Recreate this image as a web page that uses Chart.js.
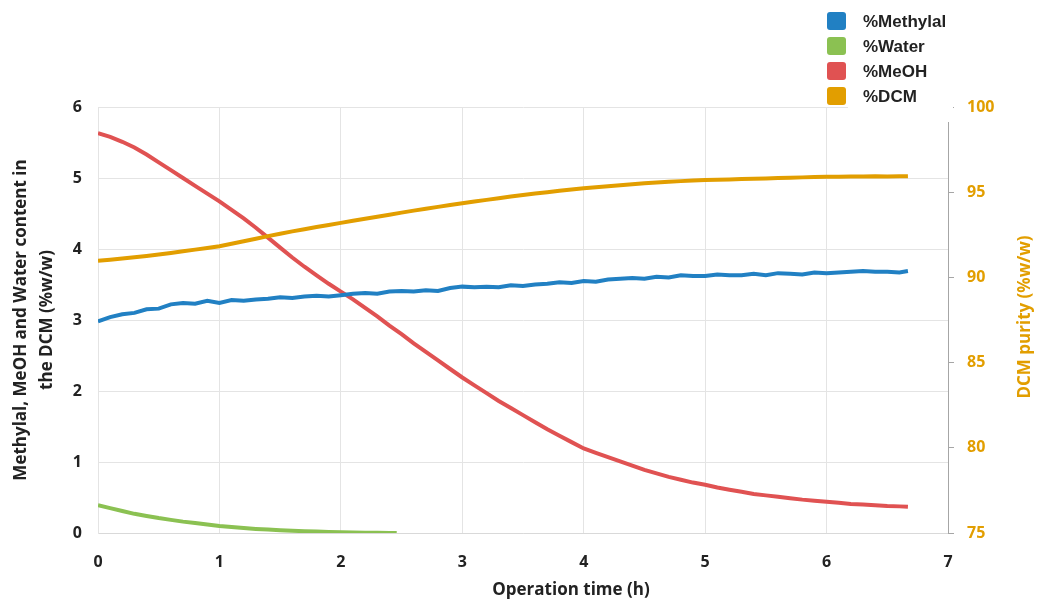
<!DOCTYPE html>
<html>
<head>
<meta charset="utf-8">
<script src="https://cdn.jsdelivr.net/npm/chart.js@4.4.1/dist/chart.umd.min.js"></script>
<style>
html,body{margin:0;padding:0;background:#fff}
</style>
</head>
<body>
<canvas id="chart" width="1037" height="600"></canvas>
<script>
// operation time (h) for the long series
const hours=[0,0.1,0.2,0.3,0.4,0.5,0.6,0.7,0.8,0.9,1,1.1,1.2,1.3,1.4,1.5,1.6,1.7,1.8,1.9,2,2.1,2.2,2.3,2.4,2.5,2.6,2.7,2.8,2.9,3,3.1,3.2,3.3,3.4,3.5,3.6,3.7,3.8,3.9,4,4.1,4.2,4.3,4.4,4.5,4.6,4.7,4.8,4.9,5,5.1,5.2,5.3,5.4,5.5,5.6,5.7,5.8,5.9,6,6.1,6.2,6.3,6.4,6.5,6.6,6.67];
const methylal=[2.98,3.04,3.08,3.10,3.15,3.16,3.22,3.24,3.23,3.27,3.24,3.28,3.27,3.29,3.30,3.32,3.31,3.33,3.34,3.33,3.35,3.37,3.38,3.37,3.40,3.41,3.40,3.42,3.41,3.45,3.47,3.46,3.47,3.46,3.49,3.48,3.50,3.51,3.53,3.52,3.55,3.54,3.57,3.58,3.59,3.58,3.61,3.60,3.63,3.62,3.62,3.64,3.63,3.63,3.65,3.63,3.66,3.65,3.64,3.67,3.66,3.67,3.68,3.69,3.68,3.68,3.67,3.69];
const meoh=[5.63,5.58,5.51,5.43,5.33,5.22,5.11,5.00,4.89,4.78,4.67,4.55,4.43,4.30,4.16,4.02,3.88,3.75,3.63,3.51,3.40,3.29,3.17,3.05,2.92,2.80,2.67,2.55,2.43,2.31,2.19,2.08,1.97,1.86,1.76,1.66,1.56,1.46,1.37,1.28,1.19,1.13,1.07,1.01,0.95,0.89,0.84,0.79,0.75,0.71,0.68,0.64,0.61,0.58,0.55,0.53,0.51,0.49,0.47,0.455,0.44,0.425,0.41,0.40,0.39,0.38,0.375,0.37];
const dcm=[90.98,91.04,91.11,91.18,91.26,91.34,91.43,91.53,91.63,91.73,91.83,91.97,92.12,92.27,92.42,92.56,92.70,92.83,92.96,93.08,93.20,93.32,93.44,93.56,93.68,93.80,93.92,94.03,94.14,94.25,94.35,94.45,94.55,94.65,94.75,94.84,94.92,95.00,95.08,95.16,95.23,95.29,95.35,95.41,95.47,95.53,95.57,95.61,95.65,95.68,95.71,95.73,95.75,95.77,95.79,95.81,95.83,95.85,95.87,95.89,95.90,95.91,95.92,95.92,95.93,95.92,95.93,95.94];
// water stops being logged at ~2.46 h
const waterHours=[0,0.1,0.2,0.3,0.4,0.5,0.6,0.7,0.8,0.9,1,1.1,1.2,1.3,1.4,1.5,1.6,1.7,1.8,1.9,2,2.1,2.2,2.3,2.4,2.46];
const water=[0.39,0.35,0.31,0.27,0.24,0.21,0.185,0.16,0.14,0.12,0.10,0.085,0.07,0.058,0.048,0.04,0.032,0.025,0.02,0.015,0.01,0.007,0.004,0.002,0.001,0];

const leftTitle=["Methylal, MeOH and Water content in","the DCM (%w/w)"];
const rightTitle="DCM purity (%w/w)";
const xTitle="Operation time (h)";

const BLUE="#2180c3",GREEN="#8bc152",RED="#e05252",ORANGE="#e29e00";
const pts=(xs,ys)=>xs.map((x,i)=>({x:x,y:ys[i]}));

const boxLegend={
 id:"boxLegend",
 afterDraw(chart){
  const c=chart.ctx,a=chart.chartArea;
  c.save();
  // white legend background hides the top of the right axis
  c.fillStyle="#fff";
  c.fillRect(848,0,a.right+5-848,a.top+15);
  c.font="bold 17px 'Liberation Sans', Arial, sans-serif";
  c.textBaseline="middle";
  chart.data.datasets.forEach((d,i)=>{
   const y=21+i*25;
   c.fillStyle=d.borderColor;
   c.beginPath();
   c.roundRect(827,y-9,19,18,3);
   c.fill();
   c.fillStyle="#222";
   c.fillText(d.label,863,y+1);
  });
  c.font="bold 17px 'Open Sans', sans-serif";
  c.fillStyle="#222";
  c.textAlign="center";
  c.fillText(xTitle,(a.left+a.right)/2+48,590);
  // right axis title reads bottom to top
  c.translate(1025,(a.top+a.bottom)/2-3);
  c.rotate(-Math.PI/2);
  c.fillStyle=ORANGE;
  c.fillText(rightTitle,0,0);
  c.restore();
 }
};

const tickFont={family:"'Open Sans', sans-serif",size:16,weight:"bold"};
const titleFont={family:"'Open Sans', sans-serif",size:17,weight:"bold",lineHeight:1.55};

new Chart(document.getElementById("chart"),{
 type:"line",
 data:{datasets:[
  {label:"%Methylal",data:pts(hours,methylal),borderColor:BLUE,backgroundColor:BLUE,yAxisID:"y",order:1},
  {label:"%Water",data:pts(waterHours,water),borderColor:GREEN,backgroundColor:GREEN,yAxisID:"y",order:3},
  {label:"%MeOH",data:pts(hours,meoh),borderColor:RED,backgroundColor:RED,yAxisID:"y",order:2},
  {label:"%DCM",data:pts(hours,dcm),borderColor:ORANGE,backgroundColor:ORANGE,yAxisID:"y2",order:0}
 ]},
 options:{
  responsive:false,
  animation:false,
  devicePixelRatio:1,
  layout:{padding:{top:107,left:0,right:0,bottom:0}},
  elements:{point:{radius:0},line:{borderWidth:4,tension:0}},
  plugins:{legend:{display:false},tooltip:{enabled:false}},
  scales:{
   x:{type:"linear",min:0,max:7,
    ticks:{stepSize:1,color:"#222",font:tickFont,padding:20},
    grid:{color:"#e4e4e4",drawTicks:false},
    border:{color:"#d9d9d9"},
    afterFit(s){s.height=67;}
   },
   y:{position:"left",min:0,max:6,
    ticks:{stepSize:1,color:"#222",font:tickFont,padding:16},
    grid:{color:"#e4e4e4",drawTicks:false},
    border:{color:"#e4e4e4"},
    title:{display:true,text:leftTitle,color:"#222",font:titleFont,padding:{top:8,bottom:0}},
    afterFit(s){s.width=98;}
   },
   y2:{position:"right",min:75,max:100,
    ticks:{stepSize:5,color:ORANGE,font:tickFont,padding:13},
    grid:{drawOnChartArea:false,color:"#a6a6a6",tickLength:6},
    border:{color:"#a6a6a6"},
    afterFit(s){s.width=89;}
   }
  }
 },
 plugins:[boxLegend]
});
</script>
</body>
</html>
